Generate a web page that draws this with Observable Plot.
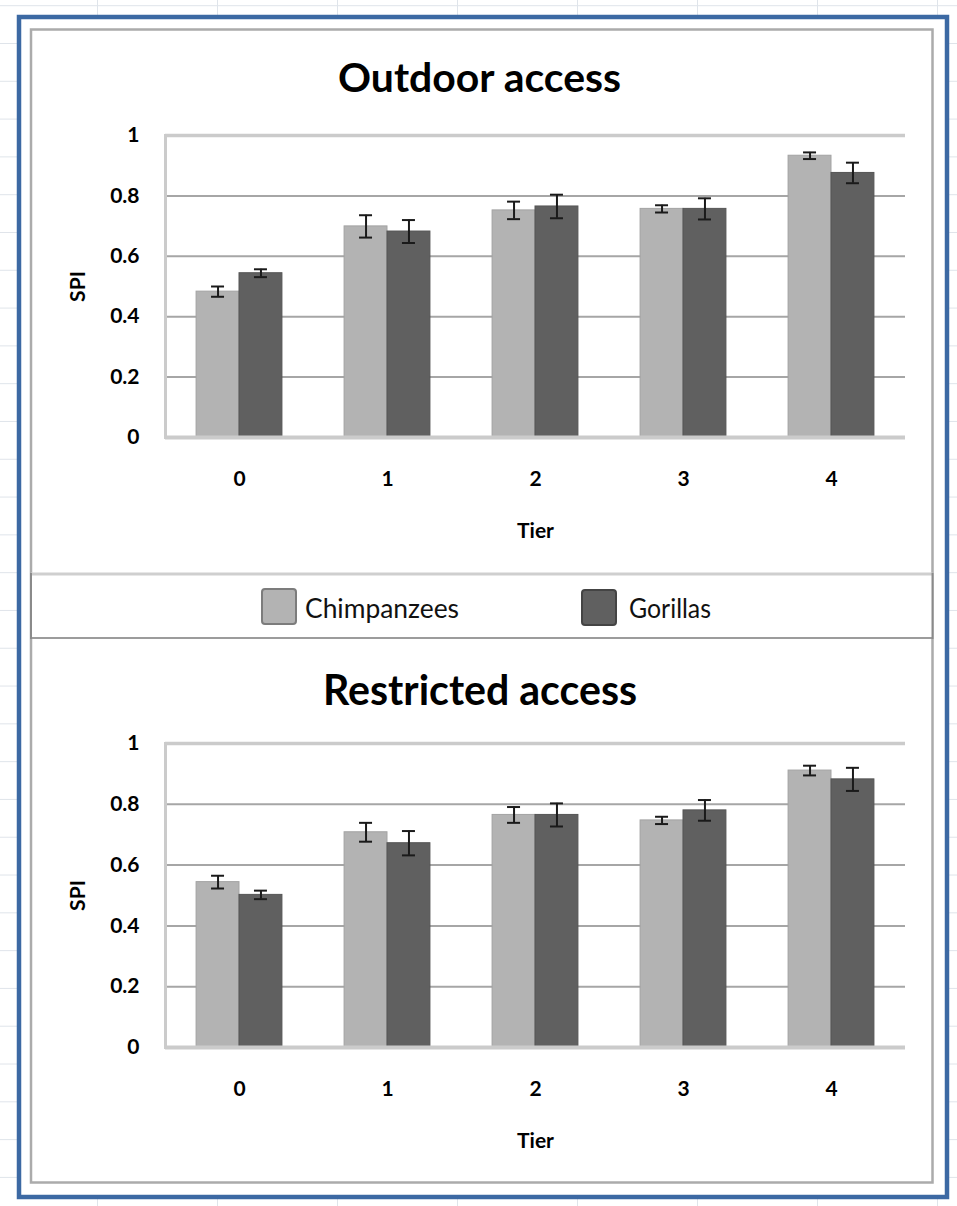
<!DOCTYPE html>
<html>
<head>
<meta charset="utf-8">
<script src="https://cdn.jsdelivr.net/npm/d3@7"></script>
<script src="https://cdn.jsdelivr.net/npm/@observablehq/plot@0.6"></script>
<style>
  body { margin: 0; background: #fff; }
  #page {
    position: relative; width: 957px; height: 1206px; overflow: hidden; background: #fff;
    background-image: linear-gradient(to right, #dfe4ea 1px, transparent 1px), linear-gradient(to bottom, #dfe4ea 1px, transparent 1px);
    background-size: 120px 100%, 100% 37.8px;
    background-position: 97px 0, 0 43px;
  }
  #decor { position: absolute; left: 0; top: 0; }
  .chart { position: absolute; left: 0; }
</style>
</head>
<body>
<div id="page">
  <svg id="decor" width="957" height="1206"></svg>
</div>
<script>
// ---- data ----
const tiers = ["0", "1", "2", "3", "4"];
const species = ["Chimpanzees", "Gorillas"];
const yTicks = [0, 0.2, 0.4, 0.6, 0.8, 1];

const outdoorChimp    = [0.483, 0.699, 0.752, 0.757, 0.933];
const outdoorChimpErr = [0.017, 0.037, 0.029, 0.012, 0.011];
const outdoorGor      = [0.544, 0.682, 0.765, 0.757, 0.876];
const outdoorGorErr   = [0.013, 0.038, 0.039, 0.035, 0.034];

const restrChimp      = [0.544, 0.708, 0.765, 0.747, 0.911];
const restrChimpErr   = [0.021, 0.031, 0.026, 0.012, 0.016];
const restrGor        = [0.502, 0.672, 0.765, 0.780, 0.882];
const restrGorErr     = [0.014, 0.040, 0.038, 0.034, 0.038];

const titles = ["Outdoor access", "Restricted access"];

// ---- styles ----
const fills = ["#b3b3b3", "#606060"];
const strokes = ["#a3a3a3", "#555555"];
const swatchStrokes = ["#7c7c7c", "#444444"];

const W = 957, ML = 165, MR = 52, MT = 35, H = 445;
const pInner = 0.42, pOuter = 0.21;

function chart(chimp, chimpErr, gor, gorErr, mb) {
  const series = [[chimp, chimpErr], [gor, gorErr]];
  const rows = [];
  tiers.forEach((t, i) => species.forEach((s, j) =>
    rows.push({tier: t, species: s, value: series[j][0][i], err: series[j][1][i]})));
  const step = (W - ML - MR) / (tiers.length - pInner + 2 * pOuter);
  const bw = step * (1 - pInner);
  const half = bw / 2, q = bw / 4, capW = 13, capInset = (bw - capW) / 2;
  const marks = [
    Plot.ruleY([0.2, 0.4, 0.6, 0.8], {stroke: "#a6a6a6", strokeWidth: 2}),
    Plot.ruleY([1], {stroke: "#cbcbcb", strokeWidth: 3.5}),
    Plot.frame({anchor: "left", stroke: "#cbcbcb", strokeWidth: 3})
  ];
  species.forEach((s, j) => {
    marks.push(Plot.barY(rows.filter(r => r.species === s), {
      x: "tier", y: "value", fill: fills[j], stroke: strokes[j], strokeWidth: 1,
      insetLeft: j ? half : 0, insetRight: j ? 0 : half
    }));
  });
  marks.push(Plot.ruleY([0], {stroke: "#cbcbcb", strokeWidth: 4}));
  species.forEach((s, j) => {
    const d = rows.filter(r => r.species === s);
    const dx = j ? q : -q;
    marks.push(Plot.ruleX(d, {x: "tier", y1: r => r.value - r.err, y2: r => r.value + r.err, dx, stroke: "#1a1a1a", strokeWidth: 2}));
    marks.push(Plot.tickY(d, {x: "tier", y: r => r.value - r.err, dx, insetLeft: capInset, insetRight: capInset, stroke: "#1a1a1a", strokeWidth: 2}));
    marks.push(Plot.tickY(d, {x: "tier", y: r => r.value + r.err, dx, insetLeft: capInset, insetRight: capInset, stroke: "#1a1a1a", strokeWidth: 2}));
  });
  marks.push(Plot.axisY({ticks: yTicks, tickFormat: d => String(d), tickSize: 0, tickPadding: 26,
    label: "SPI", labelAnchor: "center", labelOffset: 95, labelArrow: "none"}));
  marks.push(Plot.axisX({tickSize: 0, tickPadding: 34, label: "Tier", labelAnchor: "center", labelOffset: 100, labelArrow: "none"}));
  return Plot.plot({
    width: W, height: H,
    marginLeft: ML, marginRight: MR, marginTop: MT, marginBottom: mb,
    x: {domain: tiers, paddingInner: pInner, paddingOuter: pOuter, align: 0.5, round: false},
    y: {domain: [0, 1]},
    style: {fontFamily: "Lato", fontSize: "21px", fontWeight: "bold", color: "#000", background: "transparent", overflow: "visible"},
    marks
  });
}

const page = document.getElementById("page");
const top1 = chart(outdoorChimp, outdoorChimpErr, outdoorGor, outdoorGorErr, 108);
top1.classList.add("chart"); top1.style.top = "100px";
page.appendChild(top1);
const top2 = chart(restrChimp, restrChimpErr, restrGor, restrGorErr, 106);
top2.classList.add("chart"); top2.style.top = "708px";
page.appendChild(top2);

// ---- decoration: frame, titles, legend ----
const svg = d3.select("#decor");
svg.append("rect").attr("x", 19).attr("y", 17).attr("width", 928).attr("height", 1180)
  .attr("fill", "#fff").attr("stroke", "#3c69a3").attr("stroke-width", 4.5);
svg.append("rect").attr("x", 31).attr("y", 29.5).attr("width", 901.5).attr("height", 1153)
  .attr("fill", "none").attr("stroke", "#ababab").attr("stroke-width", 2.5);

const titleSpecs = [{x: 338, y: 92, len: 283, size: 40}, {x: 323, y: 705, len: 314, size: 42}];
titles.forEach((t, i) => {
  const s = titleSpecs[i];
  svg.append("text").attr("x", s.x).attr("y", s.y).attr("textLength", s.len)
    .attr("lengthAdjust", "spacingAndGlyphs")
    .style("font-family", "Lato").style("font-weight", "bold").style("font-size", s.size + "px")
    .attr("fill", "#000").text(t);
});

// legend box
svg.append("rect").attr("x", 31).attr("y", 573).attr("width", 901.5).attr("height", 65)
  .attr("fill", "#fff").attr("stroke", "none");
svg.append("line").attr("x1", 31).attr("x2", 932.5).attr("y1", 574).attr("y2", 574)
  .attr("stroke", "#cfcfcf").attr("stroke-width", 3);
svg.append("line").attr("x1", 31).attr("x2", 932.5).attr("y1", 638).attr("y2", 638)
  .attr("stroke", "#9c9c9c").attr("stroke-width", 2);
svg.append("line").attr("x1", 31).attr("x2", 31).attr("y1", 573).attr("y2", 639)
  .attr("stroke", "#8a8a8a").attr("stroke-width", 2);
svg.append("line").attr("x1", 932.5).attr("x2", 932.5).attr("y1", 573).attr("y2", 639)
  .attr("stroke", "#8a8a8a").attr("stroke-width", 2);
const legendSpecs = [{sx: 262, sy: 589, tx: 305, len: 154}, {sx: 582, sy: 590, tx: 629, len: 82}];
species.forEach((s, j) => {
  const L = legendSpecs[j];
  svg.append("rect").attr("x", L.sx).attr("y", L.sy).attr("width", 34).attr("height", 35).attr("rx", 3)
    .attr("fill", fills[j]).attr("stroke", swatchStrokes[j]).attr("stroke-width", 2);
  svg.append("text").attr("x", L.tx).attr("y", 618).attr("textLength", L.len)
    .attr("lengthAdjust", "spacingAndGlyphs")
    .style("font-family", "Lato").style("font-size", "27px").attr("fill", "#111").text(s);
});
</script>
</body>
</html>
